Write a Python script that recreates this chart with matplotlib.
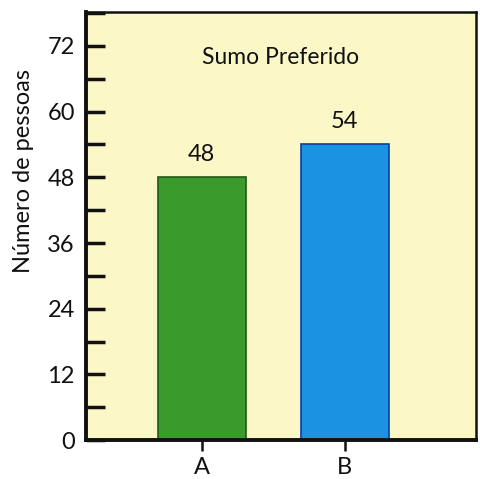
import matplotlib
matplotlib.use("Agg")
import matplotlib.pyplot as plt
from matplotlib.ticker import MultipleLocator

categories = ["A", "B"]
values = [48, 54]
value_labels = ["48", "54"]
title = "Sumo Preferido"
ylabel = "Número de pessoas"
yticks = [0, 12, 24, 36, 48, 60, 72]

plt.rcParams['font.family'] = ['Lato', 'DejaVu Sans']

fig = plt.figure(figsize=(4.8, 4.79), dpi=100)
fig.patch.set_facecolor("white")
ax = fig.add_axes([0.179, 0.081, 0.813, 0.894])
ax.set_facecolor("#FBF7C6")

x = list(range(len(categories)))
colors = ["#3A9B2C", "#1C92E3"]
edges = ["#1E5A14", "#0B3E9A"]
ax.bar(x, values, width=0.615, color=colors, edgecolor=edges, linewidth=1.2, zorder=2)

for xi, v, lab in zip(x, values, value_labels):
    ax.annotate(lab, (xi, v), xytext=(0, 9), textcoords="offset points",
                ha="center", va="bottom", fontsize=17, color="#111111")

ax.set_xlim(-0.81, 1.92)
ax.set_ylim(0, 78.2)
ax.set_xticks(x)
ax.set_xticklabels(categories, fontsize=17)
ax.set_yticks(yticks)
ax.set_yticklabels([str(t) for t in yticks], fontsize=17)
ax.yaxis.set_minor_locator(MultipleLocator(6))

ax.tick_params(axis="y", which="both", direction="in", length=14, width=2.5, pad=8, colors="#111111")
ax.tick_params(axis="x", which="major", direction="out", length=8, width=1.8, pad=4, colors="#111111")

ax.set_ylabel(ylabel, fontsize=17, color="#111111")
ax.yaxis.set_label_coords(-0.133, 0.628)
ax.text(0.5, 0.893, title, transform=ax.transAxes, ha="center", va="center",
        fontsize=16.5, color="#111111")

for side in ["left", "bottom"]:
    ax.spines[side].set_linewidth(2.8)
for side in ["top", "right"]:
    ax.spines[side].set_linewidth(1.8)
for s in ax.spines.values():
    s.set_color("#111111")

fig.savefig("out.png", dpi=100)
